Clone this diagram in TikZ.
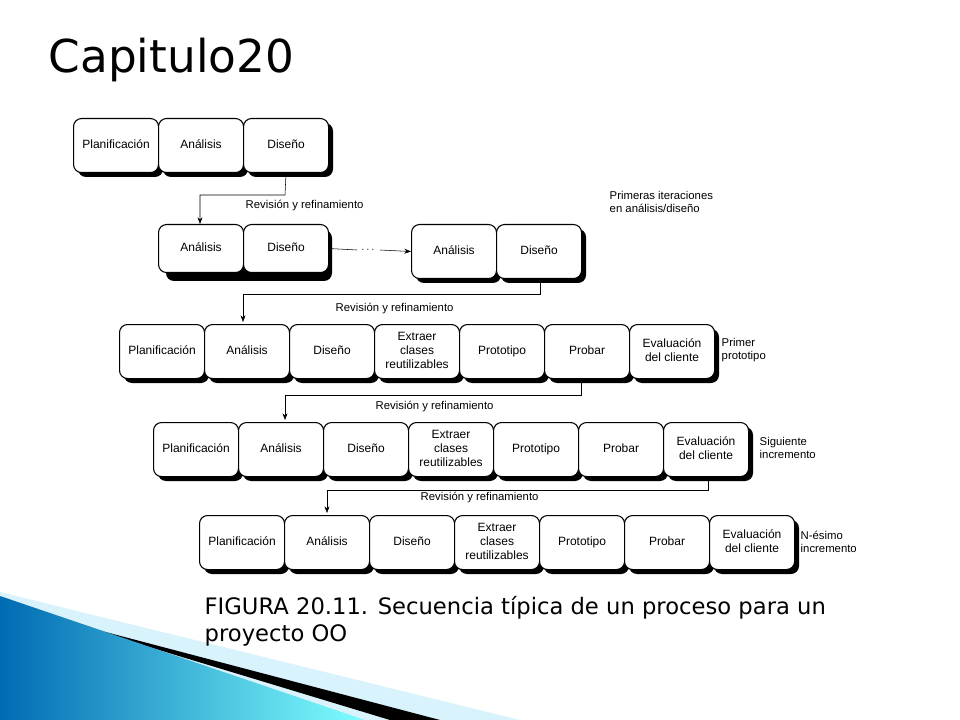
\documentclass[tikz,border=0pt]{standalone}
\usepackage{fontspec}
\setmainfont{Liberation Sans}
\newfontfamily\titlefont{DejaVu Sans}
\usetikzlibrary{arrows.meta}
\begin{document}
\begin{tikzpicture}[x=0.75pt,y=-0.75pt,
  bx/.style={draw,thick,rounded corners=6pt,fill=white,minimum width=63.75pt,minimum height=40.5pt,inner sep=0pt,font=\fontsize{9}{10.5}\selectfont,anchor=north west},
  shd/.style={fill=black,rounded corners=6pt},
  lab/.style={font=\fontsize{8.5}{10}\selectfont,align=left,anchor=west},
  arr/.style={thin,-{Stealth[length=5pt]}}]
\useasboundingbox (0,0) rectangle (960,720);
% decoration
\fill[cyan!15!white] (0,592) -- (520,720) -- (0,720) -- cycle;
\fill[black] (60,620) -- (440,720) -- (390,720) -- cycle;
\shade[left color=cyan!60!blue!70!black,right color=cyan!50!white] (0,596) -- (365,720) -- (0,720) -- cycle;
% title
\node[anchor=west,font=\titlefont\fontsize{34}{38}\selectfont] (title) at (44,60) {Capitulo20};
\newcommand{\bxtext}[2]{\parbox[c][#1][c]{62pt}{\centering\strut #2\strut}}
% row macro
\newcommand{\rowboxes}[3]{%
  \foreach \t [count=\i] in {#3} {
    \fill[shd] ({#1+(\i-1)*85+5},{#2+5}) rectangle ++(85,54);
  }
  \foreach \t [count=\i] in {#3} {
    \node[bx] (r#2n\i) at ({#1+(\i-1)*85},#2) {\bxtext{39pt}{\t}};
  }}
% row 1
\rowboxes{73}{118}{Planificación,Análisis,Diseño}
% row 2
\fill[shd] (166,230) rectangle (332,281);
\node[bx,minimum height=36pt] (a2) at (158,224) {\bxtext{35pt}{Análisis}};
\node[bx,minimum height=36pt] (d2) at (243,224) {\bxtext{35pt}{Diseño}};
\rowboxes{411}{224}{Análisis,Diseño}
% rows 3-5
\rowboxes{119}{324}{Planificación,Análisis,Diseño,Extraer\\clases\\reutilizables,Prototipo,Probar,Evaluación\\del cliente}
\rowboxes{153}{422}{Planificación,Análisis,Diseño,Extraer\\clases\\reutilizables,Prototipo,Probar,Evaluación\\del cliente}
\rowboxes{199}{515}{Planificación,Análisis,Diseño,Extraer\\clases\\reutilizables,Prototipo,Probar,Evaluación\\del cliente}
% connectors
\draw[arr] (r118n3.south) -- (285,195) -- (200,195) -- (a2.north -| 200,0);
\node[lab] (l1) at (241,206) {Revisión y refinamiento};
\draw[thin] (d2.east) -- (357,250);
\node[font=\fontsize{8}{9}\selectfont] (dots) at (368,250) {$\cdots$};
\draw[arr] (380,250) -- (r224n1.west);
\draw[arr] (540,278) -- (540,294) -- (243,294) -- (243,322);
\node[lab] (l2) at (331,309) {Revisión y refinamiento};
\draw[arr] (581,378) -- (581,395) -- (285,395) -- (285,420);
\node[lab] (l3) at (371,407) {Revisión y refinamiento};
\draw[arr] (708,476) -- (708,490) -- (327,490) -- (327,513);
\node[lab] (l4) at (416,498) {Revisión y refinamiento};
% side labels
\node[lab] (p1) at (605,202) {Primeras iteraciones\\en análisis/diseño};
\node[lab] (p2) at (717,350) {Primer\\prototipo};
\node[lab] (p3) at (755,448) {Siguiente\\incremento};
\node[lab] (p4) at (796,542) {N-ésimo\\incremento};
% caption
\node[anchor=north west,align=left,font=\titlefont\fontsize{17}{20}\selectfont] (cap) at (200,592) {FIGURA 20.11. Secuencia típica de un proceso para un\\proyecto OO};
\end{tikzpicture}
\end{document}
